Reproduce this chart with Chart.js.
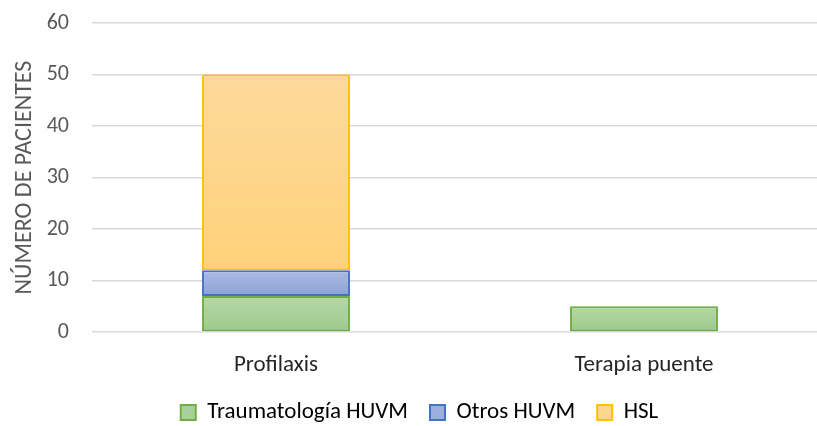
<!DOCTYPE html>
<html>
<head>
<meta charset="utf-8">
<script src="https://cdn.jsdelivr.net/npm/chart.js@4/dist/chart.umd.min.js"></script>
<style>
  html, body { margin: 0; padding: 0; background: #fff; overflow: hidden; }
  #wrap { width: 817px; height: 426px; overflow: hidden; }
</style>
</head>
<body>
<div id="wrap"><canvas id="myChart" width="828" height="426"></canvas></div>
<script>
// data
var categories = ['Profilaxis', 'Terapia puente'];
var trauma = [7, 5];
var otros = [5, 0];
var hsl = [38, 0];
var seriesNames = ['Traumatología HUVM', 'Otros HUVM', 'HSL'];
var yTicks = [0, 10, 20, 30, 40, 50, 60];

var allSeries = [trauma, otros, hsl];
var FONT = 'Carlito, Calibri, "Liberation Sans", sans-serif';

// Excel-like vertical gradient inside each bar segment
function gradientFill(top, bottom) {
  return function (ctx) {
    var chart = ctx.chart;
    var y = chart.scales.y;
    if (!y || ctx.type !== 'data') return bottom;
    var ds = ctx.datasetIndex, i = ctx.dataIndex;
    var base = 0;
    for (var k = 0; k < ds; k++) base += allSeries[k][i];
    var y0 = y.getPixelForValue(base);
    var y1 = y.getPixelForValue(base + allSeries[ds][i]);
    if (!isFinite(y0) || !isFinite(y1) || y0 === y1) return bottom;
    var g = chart.ctx.createLinearGradient(0, y1, 0, y0);
    g.addColorStop(0, top);
    g.addColorStop(1, bottom);
    return g;
  };
}

// keep the legend strip short, like the original
var legendHeight = {
  id: 'legendHeight',
  afterInit: function (chart) {
    var lg = chart.legend;
    var fit = lg.fit;
    lg.fit = function () {
      fit.call(this);
      this.height = 47;
    };
  }
};

const data = {
  labels: categories,
  datasets: [{
    label: seriesNames[0],
    data: trauma,
    backgroundColor: gradientFill('#b6d7a8', '#9dca8a'),
    borderColor: '#70ad47',
    borderWidth: 2,
    borderSkipped: false
  }, {
    label: seriesNames[1],
    data: otros,
    backgroundColor: gradientFill('#abbbe2', '#8ca3d8'),
    borderColor: '#4472c4',
    borderWidth: 2,
    borderSkipped: false
  }, {
    label: seriesNames[2],
    data: hsl,
    backgroundColor: gradientFill('#fdd99b', '#ffd27b'),
    borderColor: '#ffc000',
    borderWidth: 2,
    borderSkipped: false
  }]
};

const config = {
  type: 'bar',
  data: data,
  plugins: [legendHeight],
  options: {
    responsive: false,
    animation: false,
    layout: { padding: { top: 0, left: 11, right: 0, bottom: 0 } },
    datasets: {
      bar: { categoryPercentage: 1, barPercentage: 0.402 }
    },
    plugins: {
      tooltip: { enabled: false },
      legend: {
        position: 'bottom',
        labels: {
          font: { family: FONT, size: 23 },
          color: '#262626',
          boxWidth: 15,
          boxHeight: 15,
          padding: 22,
          generateLabels: function (chart) {
            var cols = [['#a9d09a', '#70ad47'], ['#9cafde', '#4472c4'], ['#fed68c', '#ffc000']];
            return seriesNames.map(function (n, i) {
              return { text: n, fillStyle: cols[i][0], strokeStyle: cols[i][1], lineWidth: 2, datasetIndex: i };
            });
          }
        }
      }
    },
    scales: {
      x: {
        stacked: true,
        grid: { display: false, drawTicks: false, tickLength: 0 },
        border: { display: false },
        ticks: { font: { family: FONT, size: 23 }, color: '#262626', padding: 19 },
        afterFit: function (axis) {
          axis.height = 47;
        }
      },
      y: {
        stacked: true,
        min: 0,
        max: 60,
        afterBuildTicks: function (axis) {
          axis.ticks = yTicks.map(function (v) { return { value: v }; });
        },
        afterFit: function (axis) {
          axis.width = 81;
          axis.paddingTop = 23;
          axis.paddingBottom = 14;
        },
        grid: { color: '#d9d9d9', lineWidth: 1.5, drawTicks: false },
        border: { display: false },
        ticks: { font: { family: FONT, size: 22 }, color: '#595959', padding: 23 },
        title: {
          display: true,
          text: 'NÚMERO DE PACIENTES',
          font: { family: FONT, size: 24 },
          color: '#595959',
          padding: { top: 0, bottom: 6 }
        }
      }
    }
  }
};

const myChart = new Chart(document.getElementById('myChart'), config);
</script>
</body>
</html>
